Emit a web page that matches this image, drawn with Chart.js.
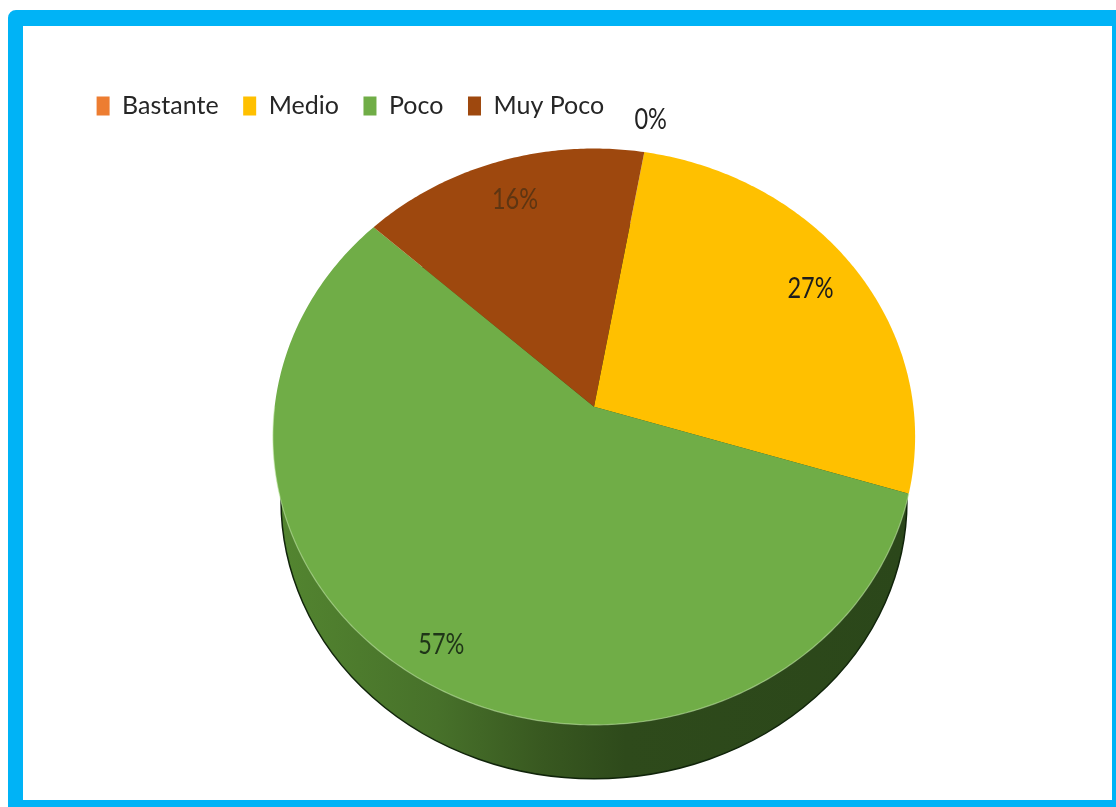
<!DOCTYPE html>
<html>
<head>
<meta charset="utf-8">
<title>Pie</title>
<script src="https://cdn.jsdelivr.net/npm/chart.js@4/dist/chart.umd.min.js"></script>
<style>
    html, body { margin: 0; padding: 0; background: #fff; overflow: hidden; }
    #frame {
        position: absolute; left: 8px; top: 10px; width: 1108px; height: 797px;
        box-sizing: border-box; background: #fff;
        border-style: solid; border-color: #00b3f6;
        border-width: 16px 4px 7px 15px; border-top-left-radius: 8px;
    }
    #pie { position: absolute; left: 0; top: 0; }
</style>
</head>
<body>
<div id="frame"></div>
<canvas id="pie" width="1116" height="807"></canvas>
<script>
const categories = ['Bastante', 'Medio', 'Poco', 'Muy Poco'];
const percents = [0, 27, 57, 16];
const sliceColors = ['#ed7d31', '#ffc000', '#70ad47', '#9e480e'];

const labelColors = ['#222222', '#1c1c1c', '#1f3518', '#5e3512'];
// how far out each percent label sits, as a share of the pie radius
const labelReach = [1.14, 0.83, 0.885, 0.83];

// perspective of the tilted disc, relative to the arc radius
const TILT_X = 1.148, TILT_Y = 1.0247, TILT_K = -0.1038;

function project(el, angle, reach) {
    const cx = Math.cos(angle) * reach, cy = Math.sin(angle) * reach;
    const d = 1 + TILT_K * cy;
    return {
        x: el.x + el.outerRadius * TILT_X * cx / d,
        y: el.y + el.outerRadius * TILT_Y * cy / d
    };
}

function traceRim(ctx, el, from, to) {
    const steps = Math.max(2, Math.ceil(Math.abs(to - from) * 90));
    for (let i = 0; i <= steps; i++) {
        const p = project(el, from + (to - from) * i / steps, 1);
        ctx.lineTo(p.x, p.y);
    }
}

// side wall: a slightly smaller ellipse lying under the top face
function drawWall(ctx, el) {
    const r = el.outerRadius;
    const cx = el.x, cy = el.y + r * 0.337, rx = r * 1.125, ry = r;
    const grad = ctx.createLinearGradient(cx - rx, 0, cx + rx, 0);
    grad.addColorStop(0, '#538530');
    grad.addColorStop(0.25, '#47712a');
    grad.addColorStop(0.42, '#385820');
    grad.addColorStop(0.55, '#2e4a1b');
    grad.addColorStop(1, '#2b471a');
    ctx.beginPath();
    ctx.ellipse(cx, cy, rx, ry, 0, 0, Math.PI * 2);
    ctx.fillStyle = grad;
    ctx.fill();
    ctx.strokeStyle = '#10240a';
    ctx.lineWidth = 1.5;
    ctx.stroke();
}

const tiltedPie = {
    id: 'tiltedPie',
    beforeDatasetDraw(chart, args) {
        const ctx = chart.ctx;
        const arcs = args.meta.data;
        ctx.save();
        drawWall(ctx, arcs[0]);
        arcs.forEach((el) => {
            if (el.endAngle - el.startAngle <= 0) return;
            ctx.beginPath();
            ctx.moveTo(el.x, el.y);
            traceRim(ctx, el, el.startAngle, el.endAngle);
            ctx.closePath();
            ctx.fillStyle = el.options.backgroundColor;
            ctx.fill();
        });
        // light edge where the top face meets the wall
        const biggest = arcs[percents.indexOf(Math.max(...percents))];
        ctx.beginPath();
        traceRim(ctx, biggest, biggest.startAngle, Math.PI);
        ctx.strokeStyle = 'rgba(200, 235, 175, 0.55)';
        ctx.lineWidth = 1.2;
        ctx.stroke();
        ctx.restore();
        return false;
    },
    afterDatasetsDraw(chart) {
        const ctx = chart.ctx;
        const arcs = chart.getDatasetMeta(0).data;
        ctx.textAlign = 'center';
        ctx.textBaseline = 'middle';
        ctx.font = '28px Lato, sans-serif';
        arcs.forEach((el, i) => {
            const mid = (el.startAngle + el.endAngle) / 2;
            const p = project(el, mid, labelReach[i]);
            // the labels are set condensed
            ctx.save();
            ctx.translate(p.x, p.y);
            ctx.scale(0.84, 1);
            ctx.fillStyle = labelColors[i];
            ctx.fillText(percents[i] + '%', 0, 0);
            ctx.restore();
        });
    }
};

new Chart(document.getElementById('pie'), {
    type: 'pie',
    plugins: [tiltedPie],
    data: {
        labels: categories,
        datasets: [{
            data: percents,
            backgroundColor: sliceColors,
            borderWidth: 0
        }]
    },
    options: {
        responsive: false,
        animation: false,
        rotation: 10,
        layout: { padding: { left: 72, right: 0, top: 69, bottom: 122 } },
        plugins: {
            tooltip: { enabled: false },
            legend: {
                position: 'top',
                align: 'start',
                labels: {
                    boxWidth: 13,
                    boxHeight: 19,
                    padding: 24.6,
                    color: '#262626',
                    font: { family: 'Lato, sans-serif', size: 25 }
                }
            }
        }
    }
});
</script>
</body>
</html>
